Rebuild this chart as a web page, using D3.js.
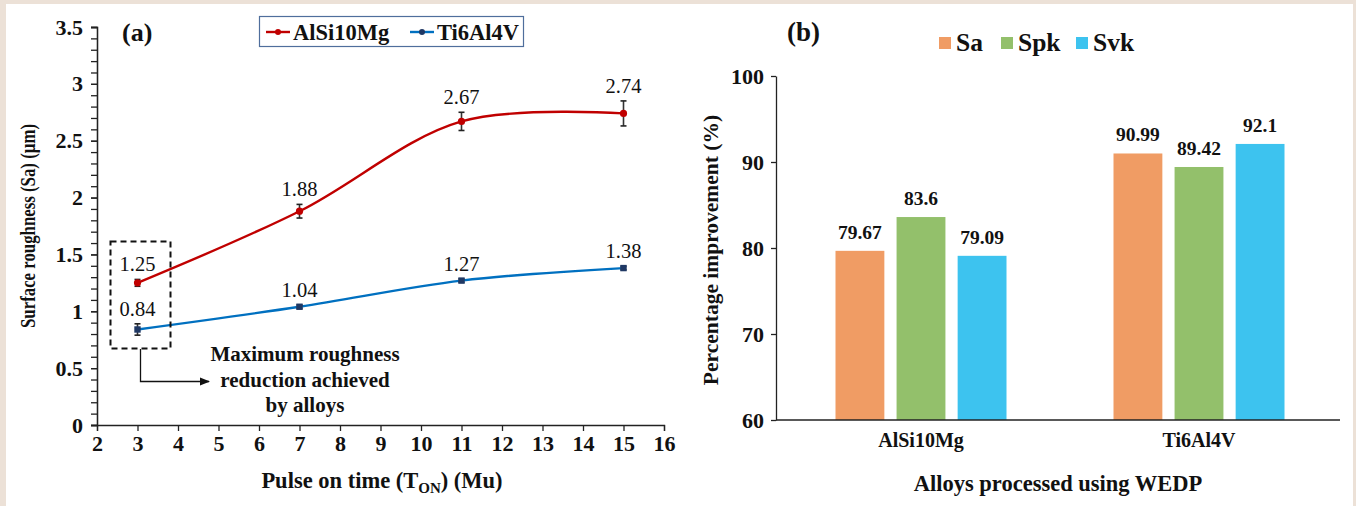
<!DOCTYPE html>
<html>
<head>
<meta charset="utf-8">
<script src="https://cdn.jsdelivr.net/npm/d3@7"></script>
<style>
  html, body { margin: 0; padding: 0; background: #ece1d7; }
  svg { display: block; }
  text { font-family: "Liberation Serif", "Times New Roman", serif; fill: #111; }
</style>
</head>
<body>
<svg id="chart" width="1356" height="506"></svg>
<script>
// ----- data, panel (a) -----
const pulseOn = [3, 7, 11, 15];
const alsiSa = [1.25, 1.88, 2.67, 2.74];
const alsiErr = [0.03, 0.06, 0.08, 0.11];
const tiSa = [0.84, 1.04, 1.27, 1.38];
const tiErr = [0.05, 0.015, 0.015, 0.015];
const xTicksA = [2, 3, 4, 5, 6, 7, 8, 9, 10, 11, 12, 13, 14, 15, 16];
const yTicksA = [0, 0.5, 1, 1.5, 2, 2.5, 3, 3.5];

// ----- data, panel (b) -----
const alloys = ["AlSi10Mg", "Ti6Al4V"];
const params = ["Sa", "Spk", "Svk"];
const saImp = [79.67, 90.99];
const spkImp = [83.6, 89.42];
const svkImp = [79.09, 92.1];
const yTicksB = [60, 70, 80, 90, 100];

const svg = d3.select("#chart");

// white sheet on the textured frame
svg.append("rect").attr("x", 6).attr("y", 4).attr("width", 1347).attr("height", 502).attr("fill", "#fff");

// ================= panel (a) =================
const xA = d3.scaleLinear().domain([2, 16]).range([97, 664]);
const yA = d3.scaleLinear().domain([0, 3.5]).range([425, 27]);

// minor y ticks
svg.append("g")
    .attr("transform", "translate(97,0)")
    .call(d3.axisLeft(yA).tickValues(d3.range(0, 3.51, 0.1)).tickSize(6).tickFormat(""))
    .call(g => g.selectAll("line,path").attr("stroke", "#222").attr("stroke-width", 1.3));

const yAxisA = svg.append("g")
    .attr("transform", "translate(97,0)")
    .call(d3.axisLeft(yA).tickValues(yTicksA).tickSize(6).tickPadding(8).tickFormat(d3.format("")));
yAxisA.selectAll("path,line").attr("stroke", "#222").attr("stroke-width", 1.3);
yAxisA.selectAll("text").style("font-size", "22px").style("font-weight", "bold")
    .style("font-family", "Liberation Serif");

const xAxisA = svg.append("g")
    .attr("transform", "translate(0,425)")
    .call(d3.axisBottom(xA).tickValues(xTicksA).tickSize(6).tickPadding(4).tickSizeOuter(6));
xAxisA.selectAll("path,line").attr("stroke", "#222").attr("stroke-width", 1.3);
xAxisA.selectAll("text").style("font-size", "22px").style("font-weight", "bold")
    .style("font-family", "Liberation Serif");

// lines
const seriesA = [
  {name: "AlSi10Mg", vals: alsiSa, err: alsiErr, color: "#c00000", mark: "#c00000"},
  {name: "Ti6Al4V", vals: tiSa, err: tiErr, color: "#0070c0", mark: "#1f3864"}
];
const lineA = d3.line().x(d => xA(d[0])).y(d => yA(d[1])).curve(d3.curveCatmullRom.alpha(0.5));

seriesA.forEach(s => {
  const pts = pulseOn.map((x, i) => [x, s.vals[i], s.err[i]]);
  svg.append("path").datum(pts).attr("d", lineA)
      .attr("fill", "none").attr("stroke", s.color).attr("stroke-width", 2.4);
  // error bars
  const eb = svg.append("g").selectAll("g").data(pts).join("g");
  eb.append("line")
      .attr("x1", d => xA(d[0])).attr("x2", d => xA(d[0]))
      .attr("y1", d => yA(d[1] - d[2])).attr("y2", d => yA(d[1] + d[2]))
      .attr("stroke", "#333").attr("stroke-width", 1.6);
  [-1, 1].forEach(sg => {
    eb.append("line")
        .attr("x1", d => xA(d[0]) - 3).attr("x2", d => xA(d[0]) + 3)
        .attr("y1", d => yA(d[1] + sg * d[2])).attr("y2", d => yA(d[1] + sg * d[2]))
        .attr("stroke", "#222").attr("stroke-width", 1.6);
  });
  // markers
  if (s.name === "AlSi10Mg") {
    svg.append("g").selectAll("circle").data(pts).join("circle")
        .attr("cx", d => xA(d[0])).attr("cy", d => yA(d[1])).attr("r", 3.6)
        .attr("fill", s.mark);
  } else {
    svg.append("g").selectAll("rect").data(pts).join("rect")
        .attr("x", d => xA(d[0]) - 3.2).attr("y", d => yA(d[1]) - 3.2)
        .attr("width", 6.4).attr("height", 6.4).attr("fill", s.mark);
  }
  // value labels
  svg.append("g").selectAll("text").data(pts).join("text")
      .attr("x", d => xA(d[0])).attr("y", d => yA(d[1] + d[2]) - 8)
      .attr("text-anchor", "middle").style("font-size", "20.5px")
      .text(d => d3.format(".2f")(d[1]));
});

// panel label
svg.append("text").attr("x", 122).attr("y", 41).style("font-size", "26px").style("font-weight", "bold").text("(a)");

// legend (a)
svg.append("rect").attr("x", 259.5).attr("y", 16.5).attr("width", 264).attr("height", 30)
    .attr("fill", "#fff").attr("stroke", "#4f6e9c").attr("stroke-width", 1.2);
[[266, "#c00000", "#c00000", "AlSi10Mg"], [410, "#0070c0", "#1f3864", "Ti6Al4V"]].forEach(([lx, c, m, t]) => {
  svg.append("line").attr("x1", lx).attr("x2", lx + 24).attr("y1", 32).attr("y2", 32)
      .attr("stroke", c).attr("stroke-width", 2.4);
  svg.append("circle").attr("cx", lx + 12).attr("cy", 32).attr("r", 3).attr("fill", m);
  svg.append("text").attr("x", lx + 27).attr("y", 39.5).style("font-size", "22.5px").style("font-weight", "bold").text(t);
});

// annotation box + arrow
svg.append("defs").append("marker").attr("id", "arr").attr("viewBox", "0 0 10 10")
    .attr("refX", 9).attr("refY", 5).attr("markerWidth", 8).attr("markerHeight", 8).attr("orient", "auto")
  .append("path").attr("d", "M0,1 L10,5 L0,9 Z").attr("fill", "#111");
svg.append("rect").attr("x", 110.5).attr("y", 241.5).attr("width", 60).attr("height", 107)
    .attr("fill", "none").attr("stroke", "#111").attr("stroke-width", 2).attr("stroke-dasharray", "6,4");
svg.append("path").attr("d", "M140.5,349 V381.5 H209").attr("fill", "none")
    .attr("stroke", "#111").attr("stroke-width", 1.3).attr("marker-end", "url(#arr)");
["Maximum roughness", "reduction achieved", "by alloys"].forEach((t, i) => {
  svg.append("text").attr("x", 305).attr("y", 361 + i * 25.5).attr("text-anchor", "middle")
      .style("font-size", "21px").style("font-weight", "bold").text(t);
});

// axis titles (a)
const xtA = svg.append("text").attr("x", 382).attr("y", 488).attr("text-anchor", "middle")
    .style("font-size", "22.5px").style("font-weight", "bold");
xtA.append("tspan").text("Pulse on time (T");
xtA.append("tspan").attr("dy", 5).style("font-size", "15px").text("ON");
xtA.append("tspan").attr("dy", -5).text(") (Mu)");
svg.append("text").attr("transform", "translate(35,226) rotate(-90)").attr("text-anchor", "middle")
    .attr("textLength", 204).attr("lengthAdjust", "spacingAndGlyphs")
    .style("font-size", "20px").style("font-weight", "bold").text("Surface roughness (Sa) (\u00b5m)");

// ================= panel (b) =================
const yB = d3.scaleLinear().domain([60, 100]).range([420, 76]);
const xB = d3.scaleBand().domain(alloys).range([782, 1338]);
const xInner = d3.scaleBand().domain(params).range([-85.5, 85.5]).paddingInner(0.2);
const colors = d3.scaleOrdinal().domain(params).range(["#f09c64", "#93c06b", "#3dc3ef"]);

const barData = [];
alloys.forEach((a, i) => {
  [saImp, spkImp, svkImp].forEach((arr, j) => barData.push({alloy: a, param: params[j], v: arr[i]}));
});

svg.append("g").selectAll("rect").data(barData).join("rect")
    .attr("x", d => xB(d.alloy) + xB.bandwidth() / 2 + xInner(d.param))
    .attr("y", d => yB(d.v))
    .attr("width", xInner.bandwidth())
    .attr("height", d => yB(60) - yB(d.v))
    .attr("fill", d => colors(d.param));

svg.append("g").selectAll("text").data(barData).join("text")
    .attr("x", d => xB(d.alloy) + xB.bandwidth() / 2 + xInner(d.param) + xInner.bandwidth() / 2)
    .attr("y", d => yB(d.v) - 12)
    .attr("text-anchor", "middle").style("font-size", "19.5px").style("font-weight", "bold")
    .text(d => d.v);

const yAxisB = svg.append("g").attr("transform", "translate(776,0)")
    .call(d3.axisLeft(yB).tickValues(yTicksB).tickSize(5).tickPadding(7).tickSizeOuter(0));
yAxisB.selectAll("path,line").attr("stroke", "#222").attr("stroke-width", 1.3);
yAxisB.selectAll("text").style("font-size", "22px").style("font-weight", "bold")
    .style("font-family", "Liberation Serif");

const xAxisB = svg.append("g").attr("transform", "translate(0,420)")
    .call(d3.axisBottom(xB).tickSize(0).tickPadding(13));
xAxisB.select("path").attr("d", "M776,0H1340").attr("stroke", "#222").attr("stroke-width", 1.3);
xAxisB.selectAll("text").style("font-size", "20px").style("font-weight", "bold")
    .style("font-family", "Liberation Serif");

svg.append("text").attr("x", 787).attr("y", 41).style("font-size", "27px").style("font-weight", "bold").text("(b)");

// legend (b)
[[939, "Sa"], [1001, "Spk"], [1076, "Svk"]].forEach(([lx, p]) => {
  svg.append("rect").attr("x", lx).attr("y", 37).attr("width", 12).attr("height", 12).attr("fill", colors(p));
  svg.append("text").attr("x", lx + 17).attr("y", 51).style("font-size", "25.5px").style("font-weight", "bold").text(p);
});

svg.append("text").attr("x", 1058).attr("y", 491).attr("text-anchor", "middle")
    .style("font-size", "22.5px").style("font-weight", "bold").text("Alloys processed using WEDP");
svg.append("text").attr("transform", "translate(718,250) rotate(-90)").attr("text-anchor", "middle")
    .style("font-size", "21.5px").style("font-weight", "bold").text("Percentage improvement (%)");
</script>
</body>
</html>
